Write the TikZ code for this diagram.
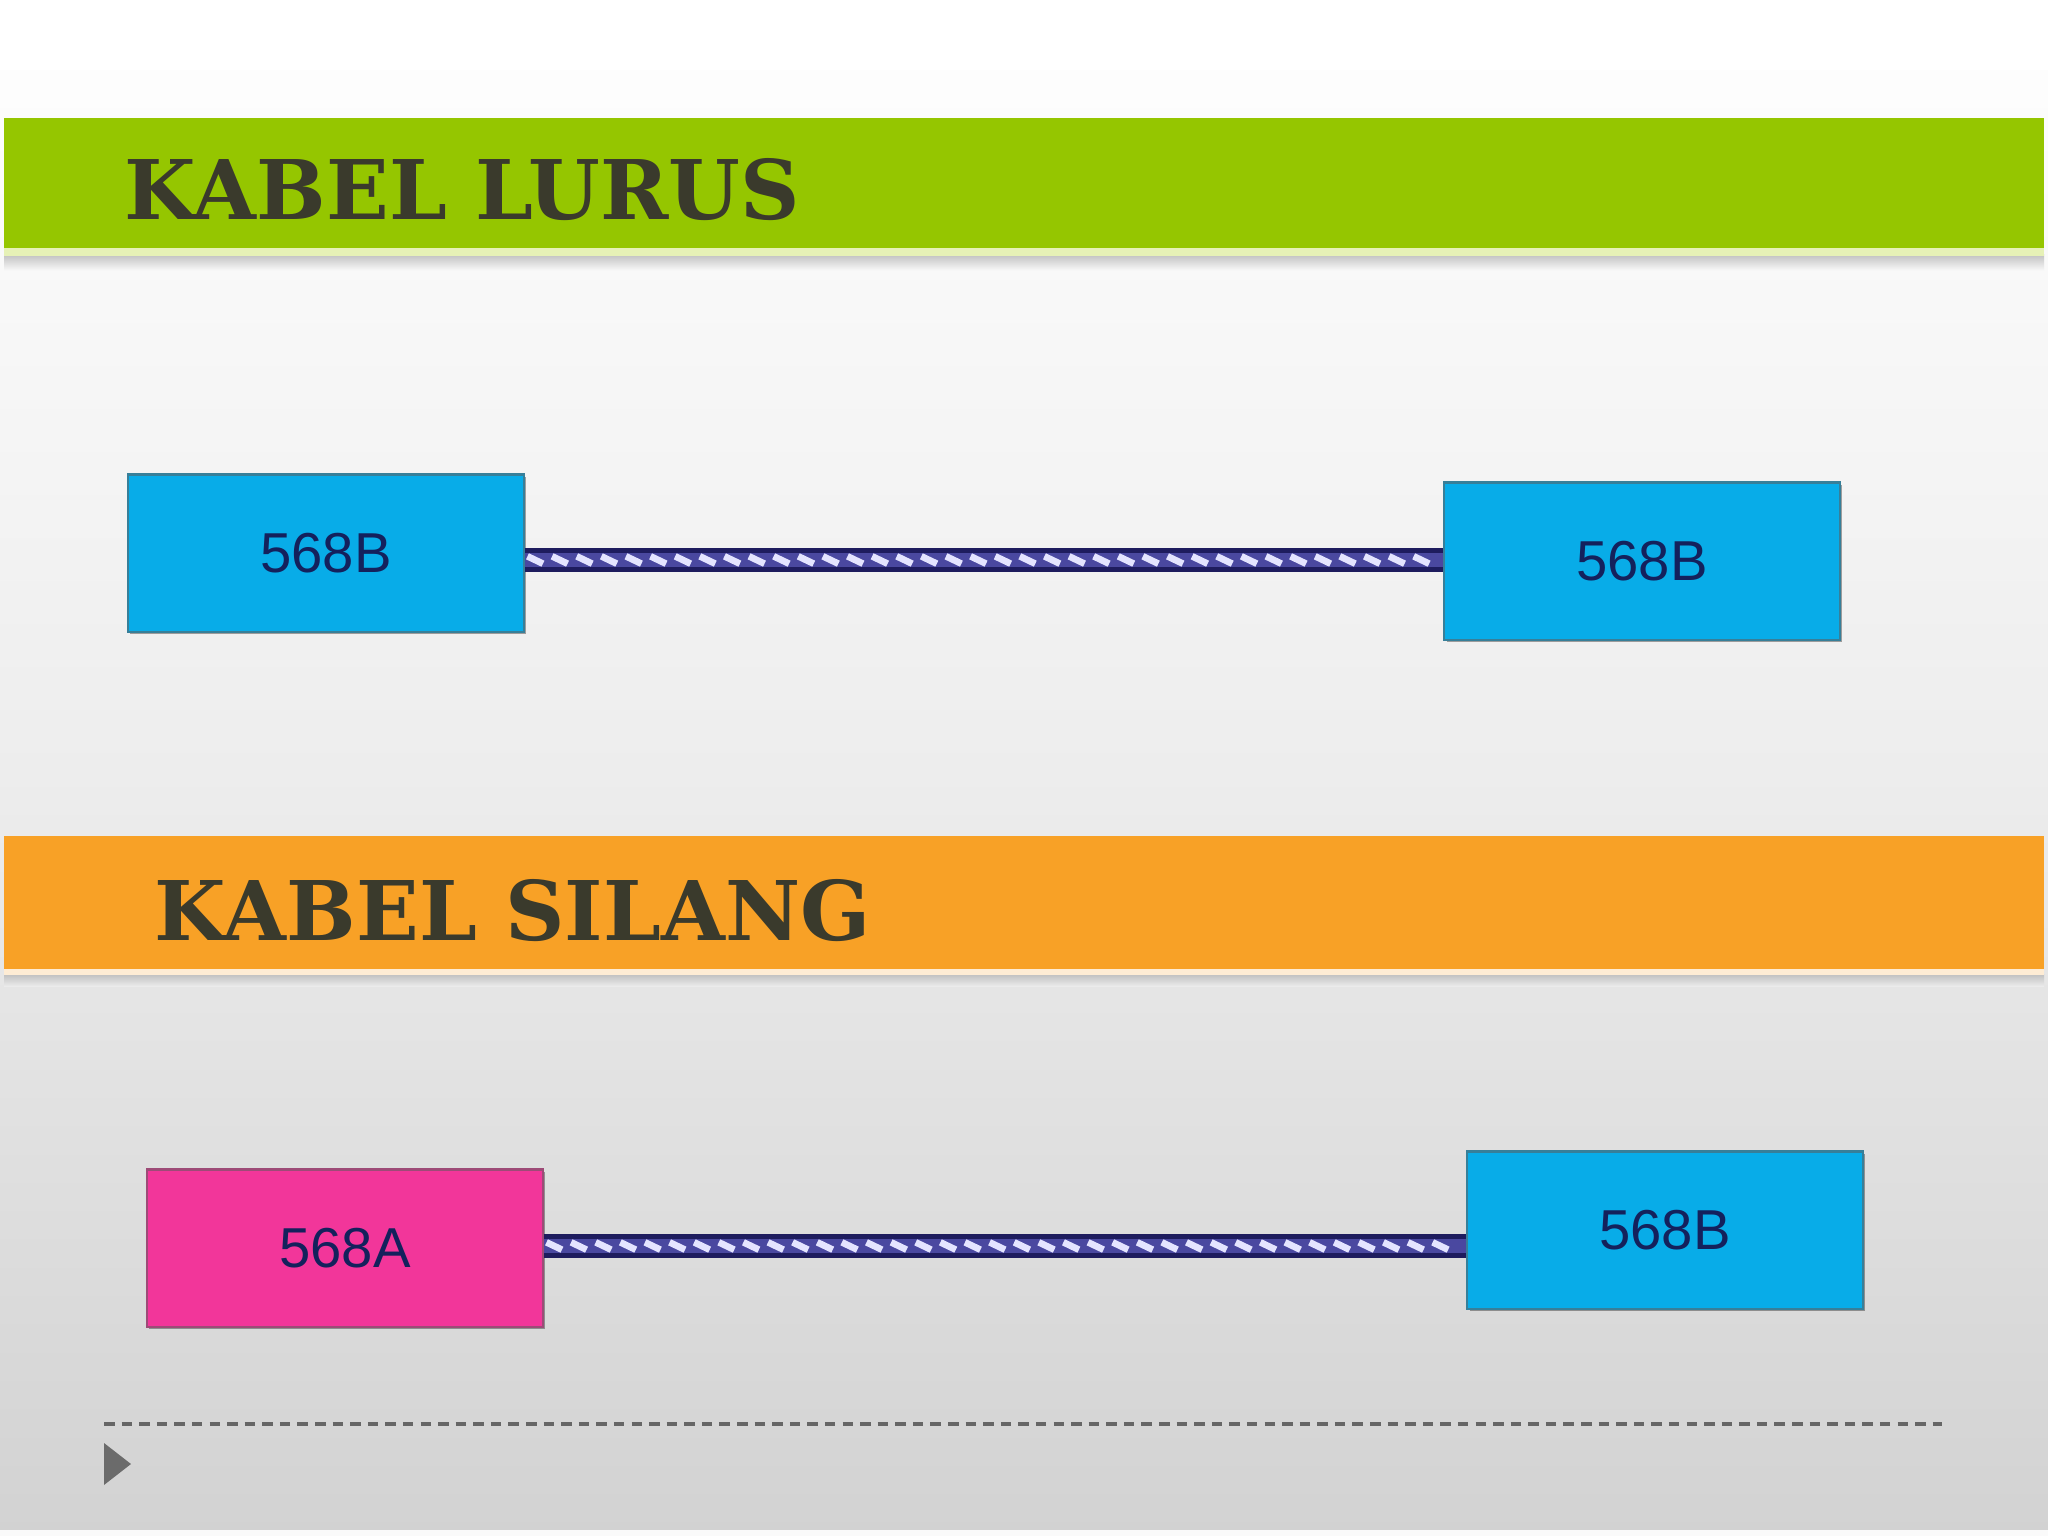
\documentclass[tikz,border=0pt]{standalone}
\usepackage{fontspec}
\setmainfont{Liberation Sans}
\newfontfamily\titlefont{DejaVu Serif}
\usetikzlibrary{shadows,decorations.markings}
\definecolor{bggrey}{HTML}{D2D2D2}
\definecolor{barGreen}{HTML}{95C600}
\definecolor{barOrange}{HTML}{F8A126}
\definecolor{boxBlue}{HTML}{08ACE8}
\definecolor{boxPink}{HTML}{F2369A}
\definecolor{labelNavy}{HTML}{14215C}
\definecolor{titleDark}{HTML}{3A3A2C}
\definecolor{cableNavy}{HTML}{1E1C5E}
\definecolor{cableMid}{HTML}{4A48A0}
\definecolor{cableLight}{HTML}{E4E4FF}
\tikzset{
  conbox/.style={draw=#1!55!black!80, line width=0.6pt, fill=#1, minimum width=3.95cm, minimum height=1.57cm,
     inner sep=0pt, text=labelNavy, font=\fontsize{16}{18}\selectfont,
     drop shadow={shadow xshift=0.6pt, shadow yshift=-0.8pt, opacity=0.35, fill=black}},
  bartitle/.style={anchor=base west, inner sep=0pt, text=titleDark, font=\titlefont\bfseries\fontsize{23.4}{25}\selectfont},
  cableouter/.style={draw=cableNavy, line width=7pt},
  cableinner/.style={draw=cableMid, line width=4pt,
     postaction={decorate, decoration={markings,
       mark=between positions 3pt and -3pt step 7pt with {\draw[cableLight, line width=1.9pt] (-2.2pt,1.05pt) -- (2.2pt,-1.05pt);}}}},
  dashline/.style={draw=black!60, line width=0.9pt, dash pattern=on 3pt off 2pt},
}
\begin{document}
\begin{tikzpicture}[x=0.01cm,y=-0.01cm]
\useasboundingbox (0,0) rectangle (2048,1536);
% background
\shade[top color=white, bottom color=bggrey, middle color=black!7] (0,0) rectangle (2048,1536);
\fill[white] (0,0) rectangle (2048,70);
\fill[white!90!bggrey] (0,1530) rectangle (2048,1536);
% green bar
\shade[top color=black!25, bottom color=black!3] (4,254) rectangle (2044,270);
\fill[barGreen!25!white!95!yellow] (4,247) rectangle (2044,256);
\fill[barGreen] (4,118) rectangle (2044,248);
\node[bartitle] (t1) at (124,219) {KABEL LURUS};
% orange bar
\shade[top color=black!25, bottom color=black!8] (4,974) rectangle (2044,986);
\fill[barOrange!20!white] (4,968) rectangle (2044,975);
\fill[barOrange] (4,836) rectangle (2044,969);
\node[bartitle] (t2) at (154,940) {KABEL SILANG};
% boxes
\node[conbox=boxBlue] (a1) at (326,553) {568B};
\node[conbox=boxBlue] (a2) at (1642,561) {568B};
\node[conbox=boxPink] (b1) at (345,1248) {568A};
\node[conbox=boxBlue] (b2) at (1665,1230) {568B};
% cables
\draw[cableouter] (a1.east |- 0,560) coordinate (c1s) -- (a2.west |- 0,560) coordinate (c1e);
\draw[cableinner] (c1s) -- (c1e);
\draw[cableouter] (b1.east |- 0,1246) coordinate (c2s) -- (b2.west |- 0,1246) coordinate (c2e);
\draw[cableinner] (c2s) -- (c2e);
% dashed line and triangle
\coordinate (d1) at (104,1424);
\coordinate (d2) at (1942,1424);
\draw[dashline] (d1) -- (d2);
\fill[black!58] (104,1443) -- (131,1464) -- (104,1485) -- cycle;
\end{tikzpicture}
\end{document}
